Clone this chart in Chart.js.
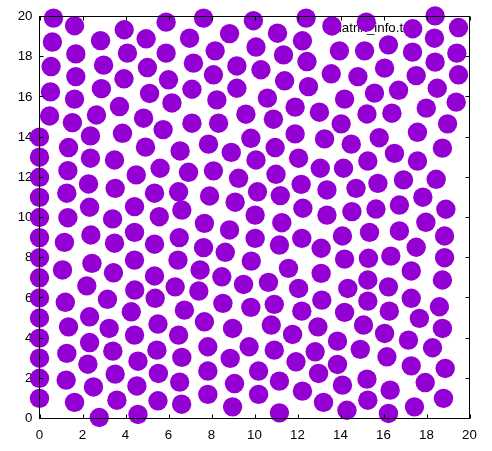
<!DOCTYPE html>
<html><head><meta charset="utf-8">
<script src="https://cdn.jsdelivr.net/npm/chart.js@4/dist/chart.umd.min.js"></script>
<style>html,body{margin:0;padding:0;background:#fff}#wrap{width:492px;height:451px}</style>
</head><body><div id="wrap"><canvas id="c" width="492" height="451"></canvas></div>
<script>
const xValues = [0.65,1.63,3.94,5.89,0.60,2.84,4.96,1.69,4.09,5.89,0.54,2.98,5.02,1.69,3.93,6.00,0.51,2.88,5.12,1.63,3.72,6.16,0.47,2.65,4.84,1.53,5.75,0,2.37,3.86,1.35,4.93,
7.63,9.95,12.40,6.98,8.84,11.07,12.23,8.17,10.07,11.35,7.16,9.18,10.30,12.44,8.09,11.40,7.09,9.18,12.51,8.25,10.60,11.89,9.60,13.02,10.88,7.09,8.33,9.83,11.89,13.26,7.86,10.96,
13.60,15.20,17.36,18.40,19.49,13.95,15.12,16.23,17.35,18.37,19.41,13.57,14.81,16.05,17.52,18.40,19.49,14.19,15.58,16.70,18.50,19.38,15.23,16.39,17.99,14.03,18.98,14.50,15.80,17.58,18.74,
0,2.37,3.49,6.54,0,1.32,2.28,4.50,5.61,0,1.27,3.52,5.35,6.47,0,2.33,1.32,4.42,3.40,5.57,0,2.39,1.16,4.42,3.49,5.35,0,2.44,4.42,6.44,0,1.07,3.44,5.35,2.20,4.43,6.31,
8.92,12.05,6.93,8.09,9.26,10.07,11.00,13.06,7.91,9.10,10.14,11.20,12.17,13.37,6.62,7.67,8.84,10.03,11.27,12.25,13.37,6.50,7.63,8.64,10.03,11.16,12.20,13.10,7.47,8.48,9.85,11.58,13.10,7.41,9.49,10.65,12.05,
16.51,17.58,14.14,15.27,16.93,18.45,14.72,15.74,17.83,14.53,15.65,16.74,18.90,14.09,15.35,16.74,17.97,18.84,14.19,15.30,16.34,17.52,18.84,15.27,16.23,17.29,18.74,14.34,
0,1.20,3.16,5.38,0,2.33,1.35,4.27,3.24,5.51,6.47,0,2.33,4.42,1.27,3.41,5.46,6.62,0,2.25,4.58,3.52,1.24,5.53,6.52,0,2.51,4.53,0,1.63,3.60,5.51,6.61,2.78,4.58,
13.13,6.74,8.53,9.83,10.92,12.20,7.67,8.98,10.78,11.77,12.95,7.83,9.75,10.92,12.82,8.87,11.93,7.83,10.19,12.98,9.07,11.16,7.83,10.19,12.23,13.21,8.98,11.16,
17.29,14.19,15.27,16.27,17.67,18.60,15.07,16.05,17.16,18.74,13.86,14.92,16.16,18.28,13.86,17.29,18.87,14.09,15.23,16.31,17.94,15.27,14.30,17.44,18.79,16.23];
const yValues = [19.92,19.54,19.34,19.72,18.73,18.80,18.89,18.14,18.18,18.18,17.51,17.58,17.46,17.01,16.90,16.85,16.25,16.41,16.17,15.89,15.52,15.70,15.05,15.10,14.94,14.72,14.37,14,14.06,14.19,13.48,13.50,
19.92,19.79,19.92,18.92,19.15,19.17,18.79,18.29,18.48,18.09,17.68,17.54,17.35,17.76,17.10,16.80,16.38,16.43,16.51,15.85,15.94,15.49,15.14,15.24,14.89,14.69,14.69,13.94,14.16,13.91,13.65,13.48,
19.53,19.72,19.39,20.03,19.45,18.29,18.29,18.59,18.23,18.92,18.18,17.15,17.01,17.43,17.06,17.73,17.10,15.89,16.19,16.33,16.43,15.74,15.15,15.19,15.44,14.66,14.66,13.65,13.97,14.24,13.45,
13,12.95,12.86,13.31,12,12.33,11.67,12.12,12.45,11,11.21,11.45,11.21,11.28,10,10.51,9.99,10.54,9.93,10.04,9,9.13,8.76,9.26,8.72,8.67,8,7.72,7.88,7.88,7,7.39,7.25,7.09,6.60,6.39,6.55,
13.24,12.95,12.25,12.32,11.95,12.86,12.15,12.45,11.07,10.76,11.28,11.09,11.65,11.37,10.37,9.71,9.38,10.12,9.74,10.46,10.12,9.00,8.50,8.27,8.96,8.63,8.96,8.47,7.39,7.05,7.83,7.47,7.22,6.34,6.67,6.77,6.47,
13.19,12.81,12.45,12.81,11.87,11.90,11.45,11.70,11.01,10.29,10.42,10.62,10.41,9.08,9.26,9.33,9.76,9.08,7.93,7.97,8.08,8.52,8.00,6.89,6.55,7.34,6.89,6.47,
6,5.78,5.93,5.98,5,5.06,4.56,5.31,4.48,4.70,4.15,4,3.78,4.15,3.24,3.35,3.40,3.04,3,2.70,2.85,2.21,1.91,2.24,1.81,2,1.57,1.62,1,0.80,0.91,0.88,0.71,0.05,0.20,
5.89,5.39,5.73,5.53,5.68,5.34,4.81,4.48,4.65,4.18,4.56,3.57,3.57,3.40,3.32,2.99,2.82,2.36,2.36,2.24,1.74,1.86,1.20,1.20,1.36,0.80,0.58,0.28,
5.98,5.28,5.84,5.34,4.98,5.56,4.65,4.23,3.90,4.48,3.85,3.44,3.07,3.52,2.69,2.62,2.49,1.66,1.96,1.41,1.79,0.91,0.41,0.58,1.00,0.25];
const xTickLabels = ['0','2','4','6','8','10','12','14','16','18','20'];
const yTickLabels = ['0','2','4','6','8','10','12','14','16','18','20'];
const seriesLabel = 'matrix_info.txt';

const FONT = {family: '"Liberation Sans", Arial, sans-serif', size: 13.3};
const points = xValues.map((x, i) => ({x: x, y: yValues[i]}));

const framePlugin = {
  id: 'frame',
  beforeDatasetsDraw(chart) {
    const ctx = chart.ctx, a = chart.chartArea;
    ctx.save();
    ctx.font = '13.3px "Liberation Sans", Arial, sans-serif';
    ctx.fillStyle = '#000';
    ctx.textAlign = 'right';
    ctx.textBaseline = 'alphabetic';
    ctx.fillText(seriesLabel, a.right - 56, a.top + 15.5);
    ctx.restore();
  },
  afterDatasetsDraw(chart) {
    const ctx = chart.ctx, a = chart.chartArea;
    const xs = chart.scales.x, ys = chart.scales.y;
    ctx.save();
    ctx.strokeStyle = '#000';
    ctx.lineWidth = 1;
    ctx.strokeRect(a.left, a.top, a.right - a.left, a.bottom - a.top);
    const tl = 4;
    ctx.beginPath();
    xTickLabels.forEach(l => {
      const px = Math.round(xs.getPixelForValue(Number(l))) + 0.5;
      ctx.moveTo(px, a.bottom); ctx.lineTo(px, a.bottom - tl);
      ctx.moveTo(px, a.top); ctx.lineTo(px, a.top + tl);
    });
    yTickLabels.forEach(l => {
      const py = Math.round(ys.getPixelForValue(Number(l)) - 0.5) + 0.5;
      ctx.moveTo(a.left, py); ctx.lineTo(a.left + tl, py);
      ctx.moveTo(a.right, py); ctx.lineTo(a.right - tl, py);
    });
    ctx.stroke();
    ctx.restore();
  }
};

new Chart(document.getElementById('c'), {
  type: 'scatter',
  data: {datasets: [{
    label: seriesLabel,
    data: points,
    backgroundColor: '#9400D3',
    borderWidth: 0,
    pointRadius: 9.7,
    pointHoverRadius: 9.7,
    clip: false
  }]},
  options: {
    responsive: false,
    devicePixelRatio: 1,
    animation: false,
    events: [],
    layout: {padding: {left: 0, right: 22.5, top: 16.5, bottom: 0}},
    plugins: {legend: {display: false}, tooltip: {enabled: false}},
    scales: {
      x: {
        type: 'linear', min: 0, max: 20,
        afterBuildTicks(s) { s.ticks = xTickLabels.map(l => ({value: Number(l)})); },
        afterFit(s) { s.height = 32.5; },
        grid: {display: false, drawTicks: false},
        border: {display: false},
        ticks: {callback: (v, i) => xTickLabels[i], color: '#000', font: FONT, padding: 9, maxRotation: 0, autoSkip: false}
      },
      y: {
        type: 'linear', min: 0, max: 20,
        afterBuildTicks(s) { s.ticks = yTickLabels.map(l => ({value: Number(l)})); },
        afterFit(s) { s.width = 39.5; },
        grid: {display: false, drawTicks: false},
        border: {display: false},
        ticks: {callback: (v, i) => yTickLabels[i], color: '#000', font: FONT, padding: 7, autoSkip: false}
      }
    }
  },
  plugins: [framePlugin]
});
</script>
</body></html>
